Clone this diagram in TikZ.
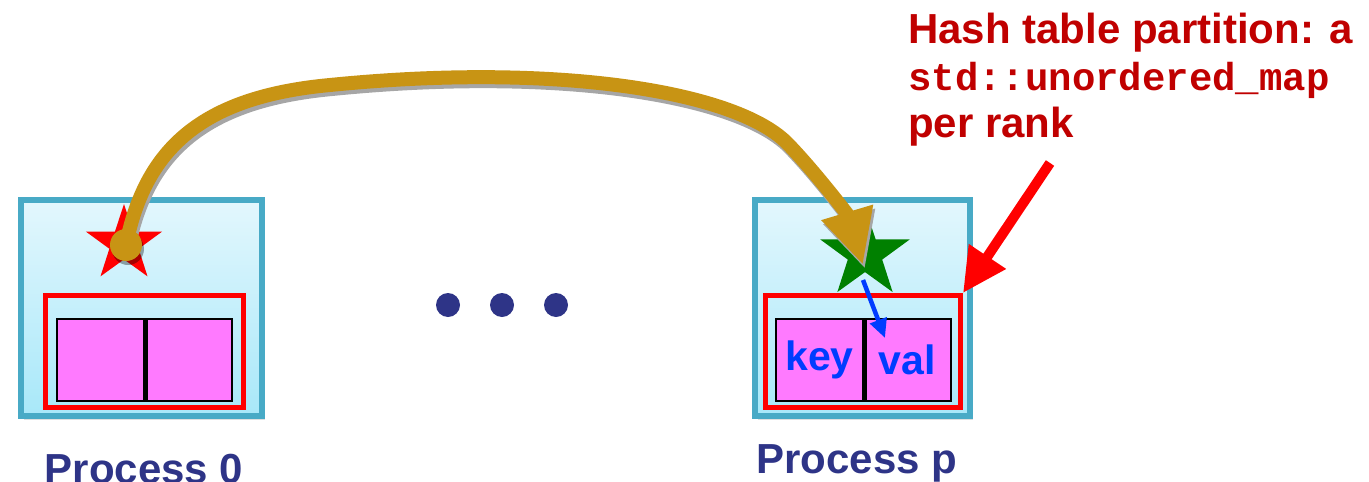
\documentclass[tikz,border=0pt]{standalone}
\usepackage{fontspec}
\setmainfont{Liberation Sans}
\setmonofont{Liberation Mono}
\usetikzlibrary{shapes.geometric,arrows.meta,shadows}
\definecolor{procteal}{RGB}{72,170,198}
\definecolor{proctop}{RGB}{227,247,253}
\definecolor{procbot}{RGB}{168,232,249}
\definecolor{cellpink}{RGB}{255,122,255}
\definecolor{keyblue}{RGB}{0,60,255}
\definecolor{arcgold}{RGB}{200,148,20}
\definecolor{navy}{RGB}{46,52,135}
\definecolor{notered}{RGB}{192,0,0}
\definecolor{stargreen}{RGB}{0,128,0}
\begin{document}
\begin{tikzpicture}[x=1pt, y=-1pt,
  proc/.style={draw=procteal, line width=6pt, top color=proctop, bottom color=procbot,
    minimum height=216pt, inner sep=0pt,
    drop shadow={shadow xshift=3pt, shadow yshift=-4pt, opacity=.25, fill=gray}},
  part/.style={draw=red, line width=5pt, minimum height=112pt, inner sep=0pt},
  cell/.style={draw=black, line width=2pt, fill=cellpink, minimum width=87pt,
    minimum height=82pt, inner sep=0pt, text=keyblue,
    font=\bfseries\fontsize{41}{41}\selectfont},
  mark star/.style={star, star points=5, star point ratio=2.6, inner sep=0pt, draw=none},
  dot/.style={circle, fill=navy, minimum size=24pt, inner sep=0pt},
  proclabel/.style={anchor=base, text=navy, inner sep=0pt, font=\bfseries\fontsize{42}{42}\selectfont}]
\useasboundingbox (0,0) rectangle (1369,482);
% the two processes
\node[proc, minimum width=241pt] (proc0) at (141.5,308) {};
\node[proc, minimum width=215pt] (procp) at (862.5,308) {};
\node[part, minimum width=198pt] (part0) at (144.5,351.5) {};
\node[part, minimum width=195pt] (partp) at (863,351.5) {};
\node[cell] (key0) at (100.5,360) {};
\node[cell, minimum width=88pt] (val0) at (188,360) {};
\node[cell] (keyp) at (819.5,360) {key};
\node[cell, minimum width=88pt] (valp) at (907,360) {val};
\draw[line width=5pt] (key0.north east) -- (key0.south east);
\draw[line width=5pt] (keyp.north east) -- (keyp.south east);
\node[mark star, fill=red, minimum size=80pt] (rstar) at (124,244) {};
\node[mark star, fill=stargreen, minimum size=94pt] (gstar) at (865,254) {};
% lookup inside the partition
\coordinate (bstart) at (863,280);
\coordinate (bend) at (885,338);
\draw[keyblue, line width=4.5pt, -{Triangle[length=19pt,width=17pt]}] (bstart) -- (bend);
% remote access
\coordinate (src) at (126,245);
\coordinate (goldtip) at (863,265);
\begin{scope}[transform canvas={shift={(2pt,-4pt)}}]
\draw[gray!70, line width=14pt, -{Triangle[length=55pt,width=50pt]}]
  (src) .. controls (145,150) and (200,97) .. (330,85)
  .. controls (560,62) and (740,92) .. (789,145)
  .. controls (815,172) and (848,215) .. (goldtip);
\fill[black, opacity=.35] (src) circle (16pt);
\end{scope}
\draw[arcgold, line width=14pt, -{Triangle[length=55pt,width=50pt]}]
  (src) .. controls (145,150) and (200,97) .. (330,85)
  .. controls (560,62) and (740,92) .. (789,145)
  .. controls (815,172) and (848,215) .. (goldtip);
\node[circle, fill=arcgold, minimum size=32pt, inner sep=0pt] (gcirc) at (src) {};
% dots
\node[dot] (dot1) at (448,305) {};
\node[dot] (dot2) at (502,305) {};
\node[dot] (dot3) at (556,305) {};
% labels
\node[proclabel] (lab0) at (144,483) {Process 0};
\node[proclabel] (labp) at (857,473) {Process p};
\node[anchor=base west, align=left, inner sep=0pt, text=notered,
  font=\bfseries\fontsize{42}{47}\selectfont] (note) at (908,137)
  {Hash table partition: a\\{\fontsize{39}{47}\selectfont\ttfamily std::unordered\_map}\\per rank};
\coordinate (notetail) at (1050,163);
\draw[red, line width=10pt, -{Triangle[length=44pt,width=42pt]}] (notetail) -- (partp.north east);
\end{tikzpicture}
\end{document}
